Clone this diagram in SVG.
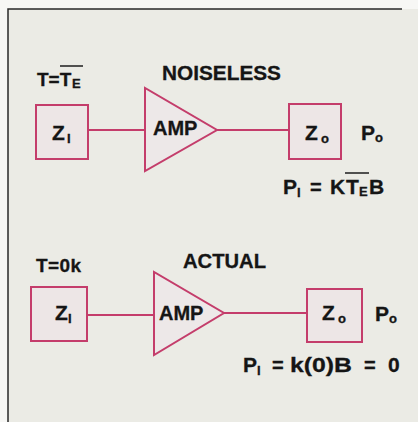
<svg xmlns="http://www.w3.org/2000/svg" width="418" height="422" viewBox="0 0 418 422">
<defs>
<style>
.box{fill:#ede6e6;stroke:#c43d6b;stroke-width:2}
.amp{fill:#ede8e8;stroke:#c43d6b;stroke-width:2;stroke-linejoin:miter}
.wire{stroke:#c43d6b;stroke-width:2;fill:none}
.t{font-family:"Liberation Sans",Arial,sans-serif;font-weight:bold;fill:#151515;stroke:#151515;stroke-width:0.3}
.big{font-size:20px}
.zz{font-size:21px}
.mid{font-size:19px}
.sub{font-size:13px}
.ov{stroke:#1c1c1c;stroke-width:1.5}
</style>
</defs>
<rect x="0" y="0" width="418" height="422" fill="#f7f7f5"/>
<rect x="8" y="9" width="410" height="413" fill="#ebebe5"/>
<path d="M8,422 V9 H402" fill="none" stroke="#2a2a2a" stroke-width="1.5"/>

<g id="connectors">
<line class="wire" x1="88" y1="130" x2="145" y2="130"/>
<line class="wire" x1="217" y1="130" x2="289" y2="130"/>
<line class="wire" x1="87" y1="315" x2="154" y2="315"/>
<line class="wire" x1="224" y1="313" x2="307" y2="313"/>
</g>

<g id="top-label">
<text class="t mid" x="37" y="86">T=T</text>
<text class="t sub" x="72" y="88">E</text>
<line class="ov" x1="60" y1="66" x2="83" y2="66"/>
<text class="t big" x="162" y="80" textLength="119" lengthAdjust="spacingAndGlyphs">NOISELESS</text>
</g>

<g id="top-zi">
<rect class="box" x="36" y="105" width="52" height="54"/>
<text class="t zz" x="52" y="140">Z</text>
<text class="t sub" x="67" y="143">I</text>
</g>

<g id="top-amp">
<polygon class="amp" points="145,88 145,171 217,130"/>
<text class="t big" x="153" y="135">AMP</text>
</g>

<g id="top-zo">
<rect class="box" x="289" y="104" width="52" height="55"/>
<text class="t zz" x="305" y="140">Z</text>
<text class="t sub" x="321" y="143">o</text>
</g>

<g id="top-po">
<text class="t zz" x="361" y="140">P</text>
<text class="t sub" x="375" y="142">o</text>
</g>

<g id="top-eq">
<text class="t zz" x="283" y="194">P</text>
<text class="t sub" x="297" y="197">I</text>
<text class="t big" x="310" y="194">=</text>
<text class="t zz" x="330" y="194">K</text>
<text class="t zz" x="346" y="194">T</text>
<text class="t sub" x="359" y="196">E</text>
<text class="t zz" x="369" y="194">B</text>
<line class="ov" x1="345" y1="173" x2="369" y2="173"/>
</g>

<g id="bottom-label">
<text class="t mid" x="36" y="272" textLength="45" lengthAdjust="spacing">T=0k</text>
<text class="t big" x="183" y="268" textLength="83" lengthAdjust="spacingAndGlyphs">ACTUAL</text>
</g>

<g id="bottom-zi">
<rect class="box" x="31" y="287" width="56" height="54"/>
<text class="t zz" x="55" y="320">Z</text>
<text class="t sub" x="68" y="323">I</text>
</g>

<g id="bottom-amp">
<polygon class="amp" points="154,272 154,355 224,313"/>
<text class="t big" x="159" y="320">AMP</text>
</g>

<g id="bottom-zo">
<rect class="box" x="307" y="289" width="55" height="53"/>
<text class="t zz" x="322" y="320">Z</text>
<text class="t sub" x="338" y="323">o</text>
</g>

<g id="bottom-po">
<text class="t zz" x="375" y="321">P</text>
<text class="t sub" x="389" y="323">o</text>
</g>

<g id="bottom-eq">
<text class="t zz" x="243" y="372">P</text>
<text class="t sub" x="257" y="375">I</text>
<text class="t big" x="272" y="372">=</text>
<text class="t zz" x="290" y="372" textLength="62" lengthAdjust="spacingAndGlyphs">k(0)B</text>
<text class="t big" x="364" y="372">=</text>
<text class="t zz" x="388" y="372">0</text>
</g>
</svg>
